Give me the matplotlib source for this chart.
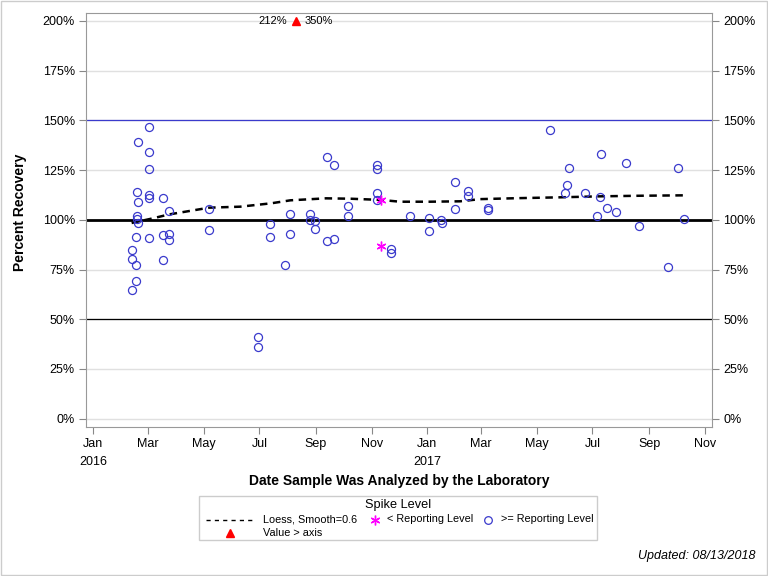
import numpy as np
import pandas as pd
import matplotlib
matplotlib.use('Agg')
import matplotlib.pyplot as plt
from matplotlib.lines import Line2D

# >= reporting level spikes (percent recovery)
ge_dates = ['2016-02-12', '2016-02-12', '2016-02-12',
            '2016-02-17', '2016-02-17', '2016-02-17',
            '2016-02-18', '2016-02-18', '2016-02-18',
            '2016-02-19', '2016-02-19', '2016-02-19',
            '2016-03-02', '2016-03-02', '2016-03-02', '2016-03-02', '2016-03-02', '2016-03-02',
            '2016-03-17', '2016-03-17', '2016-03-17',
            '2016-03-24', '2016-03-24', '2016-03-24',
            '2016-05-07', '2016-05-07',
            '2016-06-29', '2016-06-29',
            '2016-07-13', '2016-07-13',
            '2016-07-29',
            '2016-08-04', '2016-08-04',
            '2016-08-25', '2016-08-25',
            '2016-08-31', '2016-08-31',
            '2016-09-13', '2016-09-13',
            '2016-09-21', '2016-09-21',
            '2016-10-06', '2016-10-06',
            '2016-11-07', '2016-11-07', '2016-11-07', '2016-11-07',
            '2016-11-22', '2016-11-22',
            '2016-12-13',
            '2017-01-03', '2017-01-03',
            '2017-01-16', '2017-01-17',
            '2017-01-31', '2017-01-31',
            '2017-02-15', '2017-02-15',
            '2017-03-09', '2017-03-09',
            '2017-05-16', '2017-06-01', '2017-06-03', '2017-06-05', '2017-06-23',
            '2017-07-06', '2017-07-09', '2017-07-10', '2017-07-17', '2017-07-27',
            '2017-08-07', '2017-08-21', '2017-09-22', '2017-10-03', '2017-10-09']
ge_values = [84.7, 80.5, 64.5,
             91.1, 77.5, 69.0,
             114.0, 101.8, 100.6,
             139.0, 109.0, 98.4,
             146.5, 134.0, 125.6, 112.4, 111.1, 90.6,
             111.1, 92.6, 80.0,
             104.2, 93.0, 90.0,
             105.6, 95.1,
             41.0, 35.9,
             98.1, 91.6,
             77.5,
             102.8, 93.0,
             102.8, 99.7,
             99.2, 95.6,
             131.6, 89.2,
             127.6, 90.2,
             107.1, 102.1,
             127.8, 125.6, 113.6, 110.1,
             85.2, 83.1,
             101.8,
             101.1, 94.5,
             99.7, 98.4,
             119.1, 105.6,
             114.3, 111.8,
             106.1, 105.1,
             145.2, 113.6, 117.6, 126.1, 113.6,
             102.1, 111.6, 133.2, 106.1, 103.8,
             128.6, 97.1, 76.2, 126.1, 100.6]

# < reporting level spikes
lt_dates = ['2016-11-11', '2016-11-11']
lt_values = [110.1, 87.0]

# values beyond the axis
over_date = '2016-08-10'
over_labels = ['212%', '350%']

# loess fit, smooth=0.6
loess_dates = ['2016-02-12', '2016-03-04', '2016-03-24', '2016-05-07', '2016-06-10',
               '2016-07-14', '2016-08-04', '2016-09-12', '2016-10-09', '2016-11-11',
               '2016-12-02', '2017-01-04', '2017-02-06', '2017-02-28', '2017-04-12',
               '2017-05-26', '2017-07-09', '2017-08-22', '2017-10-09']
loess_values = [98.4, 100.5, 102.7, 106.1, 106.6,
                108.3, 109.8, 110.8, 110.6, 110.0,
                109.1, 109.1, 109.3, 110.4, 110.9,
                111.3, 111.8, 112.1, 112.3]

y_ticks = [0, 25, 50, 75, 100, 125, 150, 175, 200]

plt.rcParams['font.family'] = ['Liberation Sans', 'DejaVu Sans']

blue = '#3a3acc'
W, H = 768, 576


def fx(px):
    return px / W


def fy(py):
    return 1 - py / H


fig = plt.figure(figsize=(7.68, 5.76), dpi=100)
ax = fig.add_axes([fx(86), fy(427), 626 / W, 414 / H])

# grid and reference lines
for t in y_ticks:
    ax.axhline(t, color='#e0e0e0', lw=1, zorder=0)
ax.axhline(50, color='black', lw=0.9, zorder=1)
ax.axhline(150, color=blue, lw=0.9, zorder=1)
ax.axhline(100, color='black', lw=2, zorder=1)

ax.plot(pd.to_datetime(loess_dates), loess_values, ls=(0, (3, 2.2)), color='black',
        lw=1.8, zorder=2)
ax.plot(pd.to_datetime(ge_dates), ge_values, 'o', ms=5.8, mfc='none', mec=blue,
        mew=0.9, zorder=3)
ax.plot(pd.to_datetime(lt_dates), lt_values, ls='none', marker=(6, 2, 0), ms=7,
        color='magenta', mew=1, zorder=4)

od = pd.to_datetime(over_date)
ax.plot([od], [200], '^', ms=5.5, color='red', mec='red', zorder=5, clip_on=False)
ax.annotate(over_labels[0], (od, 200), xytext=(-6.5, 0), textcoords='offset points',
            ha='right', va='center', fontsize=8)
ax.annotate(over_labels[1], (od, 200), xytext=(6, 0), textcoords='offset points',
            ha='left', va='center', fontsize=8)

ax.set_ylim(-4.2, 204)
ax.set_xlim(pd.Timestamp('2015-12-24'), pd.Timestamp('2017-11-09'))
ax.set_yticks(y_ticks)
ax.set_yticklabels([f'{t}%' for t in y_ticks], fontsize=9)

xt = pd.date_range('2016-01-01', '2017-11-01', freq='2MS')
ax.set_xticks(xt)
ax.set_xticklabels([d.strftime('%b') + ('\n' + d.strftime('%Y') if d.month == 1 else '')
                    for d in xt], fontsize=9, linespacing=1.6)

ax.tick_params(axis='both', direction='out', length=5, color='#888888', pad=3)
ax.tick_params(axis='y', right=True, labelright=True)
for s in ax.spines.values():
    s.set_color('#999999')

ax.set_ylabel('Percent Recovery', fontweight='bold', fontsize=10)
ax.yaxis.set_label_coords(-0.094, 0.518)
ax.set_xlabel('Date Sample Was Analyzed by the Laboratory', fontweight='bold', fontsize=10)
ax.xaxis.set_label_coords(0.5, -0.1135)

# legend, laid out by hand to match the reference spacing
fig.patches.append(plt.Rectangle((fx(199), fy(540)), (597 - 199) / W, (540 - 496) / H,
                                 transform=fig.transFigure, fill=False,
                                 edgecolor='#cccccc', lw=1))
fig.text(fx(398), fy(505), 'Spike Level', ha='center', va='center', fontsize=9.2)
row1, row2 = fy(519.5), fy(533)
fig.add_artist(Line2D([fx(206), fx(254)], [row1, row1], ls=(0, (3, 3)), color='black',
                      lw=1, transform=fig.transFigure))
fig.text(fx(263), row1, 'Loess, Smooth=0.6', ha='left', va='center', fontsize=7.8)
fig.add_artist(Line2D([fx(375)], [row1], ls='none', marker=(6, 2, 0), color='magenta',
                      ms=7, mew=1, transform=fig.transFigure))
fig.text(fx(387), row1, '< Reporting Level', ha='left', va='center', fontsize=7.8)
fig.add_artist(Line2D([fx(488)], [row1], ls='none', marker='o', mfc='none', mec=blue,
                      ms=5.5, mew=0.9, transform=fig.transFigure))
fig.text(fx(501), row1, '>= Reporting Level', ha='left', va='center', fontsize=7.8)
fig.add_artist(Line2D([fx(230)], [row2], ls='none', marker='^', color='red', ms=5.5,
                      transform=fig.transFigure))
fig.text(fx(263), row2, 'Value > axis', ha='left', va='center', fontsize=7.8)

fig.text(fx(755), fy(556), 'Updated: 08/13/2018', ha='right', va='center',
         fontsize=9, style='italic')

fig.patches.append(plt.Rectangle((0.001, 0.001), 0.998, 0.998, transform=fig.transFigure,
                                 fill=False, edgecolor='#cccccc', lw=1))

fig.savefig('out.png', dpi=100)
